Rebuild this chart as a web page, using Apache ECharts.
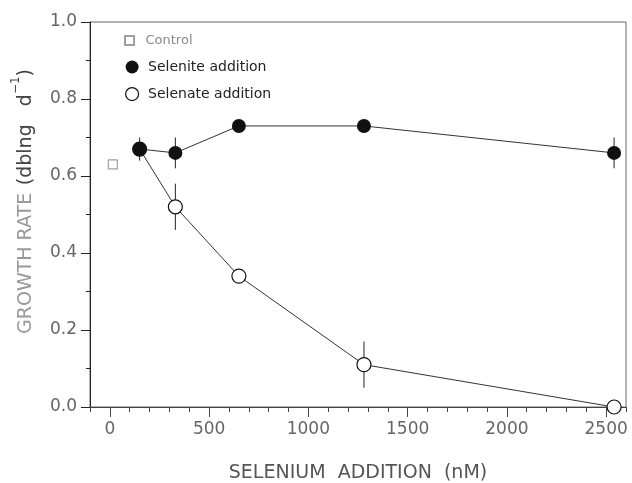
<!DOCTYPE html>
<html>
<head>
<meta charset="utf-8">
<script src="https://cdn.jsdelivr.net/npm/echarts@6/dist/echarts.min.js"></script>
<style>html,body{margin:0;padding:0;background:#fff}#c{width:632px;height:483px}</style>
</head>
<body>
<div id="c"></div>
<script>
// ---- data ----
var concentration = [150, 330, 650, 1280, 2540];
var seleniteRate = [0.67, 0.66, 0.73, 0.73, 0.66];
var seleniteErr = [0.03, 0.04, 0, 0, 0.04];
var selenateRate = [0.67, 0.52, 0.34, 0.11, 0.00];
var selenateErr = [0, 0.06, 0, 0.06, 0];
var controlX = [15];
var controlRate = [0.63];
var xMajorTicks = [0, 500, 1000, 1500, 2000, 2500];

function pairs(xs, ys) { return xs.map(function (x, i) { return [x, ys[i]]; }); }
var errData = [];
concentration.forEach(function (x, i) {
  if (seleniteErr[i] > 0) errData.push([x, seleniteRate[i] - seleniteErr[i], seleniteRate[i] + seleniteErr[i]]);
  if (selenateErr[i] > 0) errData.push([x, selenateRate[i] - selenateErr[i], selenateRate[i] + selenateErr[i]]);
});

var FONT = 'DejaVu Sans';
var chart = echarts.init(document.getElementById('c'));
chart.setOption({
  animation: false,
  backgroundColor: '#fff',
  textStyle: { fontFamily: FONT },
  grid: { left: 90, right: 6, top: 22, bottom: 76, outerBoundsMode: 'none', containLabel: false, show: true, borderColor: '#666', borderWidth: 1, backgroundColor: 'transparent' },
  legend: [
    {
      data: [{ name: 'Control', icon: 'path://M0,0L10,0L10,10L0,10Z', textStyle: { color: '#888' } }],
      orient: 'vertical', left: 119, top: 29, itemWidth: 22, itemHeight: 9,
      textStyle: { fontFamily: FONT, fontSize: 13, color: '#888' }, selectedMode: false
    },
    {
      data: [
        { name: 'Selenite addition', icon: 'circle', itemStyle: { color: '#111' } },
        { name: 'Selenate addition', icon: 'circle', itemStyle: { color: '#fff', borderColor: '#111', borderWidth: 1.2 } }
      ],
      orient: 'vertical', left: 120, top: 55, itemWidth: 22, itemHeight: 13, itemGap: 13,
      textStyle: { fontFamily: FONT, fontSize: 14, color: '#222' }, selectedMode: false
    }
  ],
  xAxis: [
    {
      type: 'value', min: -100, max: 2600, position: 'bottom',
      axisLine: { show: true, onZero: false, lineStyle: { color: '#444', width: 1 } },
      axisTick: { show: true, customValues: xMajorTicks, length: 10, lineStyle: { color: '#444' } },
      axisLabel: { customValues: xMajorTicks, fontSize: 17, color: '#666', margin: 14, fontFamily: FONT, formatter: function (v) { return String(v); } },
      splitLine: { show: false },
      name: 'SELENIUM  ADDITION  (nM)', nameLocation: 'middle', nameGap: 57,
      nameTextStyle: { fontSize: 19, color: '#555', fontFamily: FONT }
    },
    {
      type: 'value', min: -100, max: 2600, interval: 100, position: 'bottom',
      axisLine: { show: false, onZero: false },
      axisTick: { show: true, length: 5, lineStyle: { color: '#444' } },
      axisLabel: { show: false },
      splitLine: { show: false }
    }
  ],
  yAxis: {
    type: 'value', min: 0, max: 1, interval: 0.2,
    axisLine: { show: true, onZero: false, lineStyle: { color: '#222', width: 1 } },
    axisTick: { show: true, length: 9, lineStyle: { color: '#222' } },
    minorTick: { show: true, splitNumber: 2, length: 4, lineStyle: { color: '#222' } },
    axisLabel: { fontSize: 17, color: '#666', margin: 13, fontFamily: FONT, formatter: function (v) { return v.toFixed(1); } },
    splitLine: { show: false },
    name: '{g|GROWTH RATE}  {b|(dblng   d}{s|−1}{b|)}', nameLocation: 'middle', nameGap: 54,
    nameTextStyle: {
      padding: [0, 0, 0, 26],
      rich: {
        g: { fontSize: 19, color: '#9a9a9a', fontFamily: FONT, lineHeight: 26, verticalAlign: 'bottom' },
        b: { fontSize: 19, color: '#444', fontFamily: FONT, lineHeight: 26, verticalAlign: 'bottom' },
        s: { fontSize: 12, color: '#444', fontFamily: FONT, lineHeight: 26, verticalAlign: 'top' }
      }
    }
  },
  series: [
    {
      type: 'custom', name: 'err', xAxisIndex: 0, z: 1, silent: true,
      data: errData,
      renderItem: function (params, api) {
        var lo = api.coord([api.value(0), api.value(1)]);
        var hi = api.coord([api.value(0), api.value(2)]);
        return { type: 'line', shape: { x1: lo[0], y1: lo[1], x2: hi[0], y2: hi[1] }, style: { stroke: '#222', lineWidth: 1 } };
      }
    },
    {
      type: 'line', name: 'Selenate addition', data: pairs(concentration, selenateRate), z: 2,
      symbol: 'circle', symbolSize: 14,
      itemStyle: { color: '#fff', borderColor: '#111', borderWidth: 1.2 },
      lineStyle: { color: '#333', width: 1 }
    },
    {
      type: 'line', name: 'Selenite addition', data: pairs(concentration, seleniteRate), z: 3,
      symbol: 'circle', symbolSize: 14,
      itemStyle: { color: '#111', borderColor: '#111', borderWidth: 0 },
      lineStyle: { color: '#333', width: 1 }
    },
    {
      type: 'scatter', name: 'Control', data: pairs(controlX, controlRate), z: 3,
      symbol: 'rect', symbolSize: 9,
      itemStyle: { color: '#fff', borderColor: '#888', borderWidth: 1.2 }
    }
  ]
});
</script>
</body>
</html>
